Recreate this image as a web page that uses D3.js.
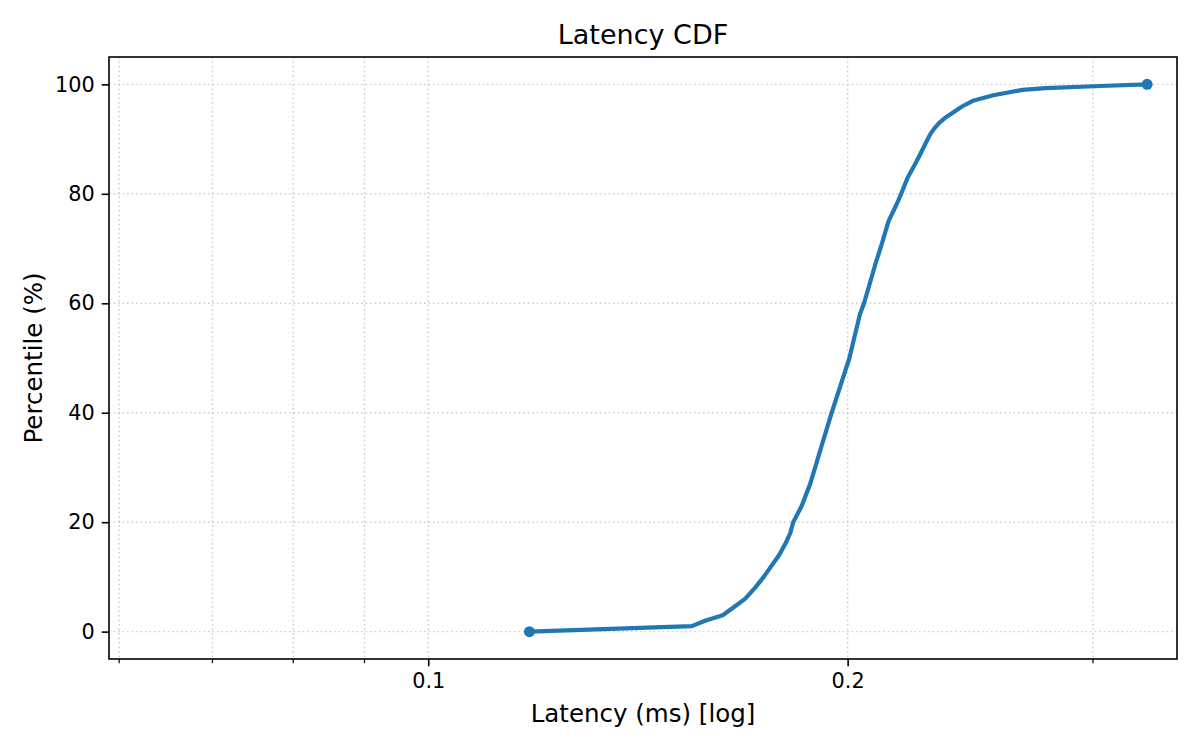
<!DOCTYPE html>
<html>
<head>
<meta charset="utf-8">
<title>Latency CDF</title>
<script src="https://cdn.jsdelivr.net/npm/d3@7"></script>
<style>
  body { margin: 0; background: #fff; }
  text { font-family: "DejaVu Sans", sans-serif; fill: #000; }
</style>
</head>
<body>
<div id="chart"></div>
<script>
// Percentile levels and latency (ms)
const percentiles = [0, 1, 2, 3, 5, 6, 8, 10, 14, 16, 18, 20, 23, 27, 34, 40, 50, 58, 60, 67, 71, 75, 78, 80, 83, 86, 89, 90, 91, 92, 93, 94, 95, 96, 97, 98, 99, 99.3, 99.7, 100];
const latencyMs = [0.1182, 0.1546, 0.1580, 0.1627, 0.1668, 0.1688, 0.1716, 0.1741, 0.1786, 0.1804, 0.1819, 0.1828, 0.1854, 0.1880, 0.1916, 0.1948, 0.2006, 0.2041, 0.2055, 0.2093, 0.2117, 0.2140, 0.2168, 0.2185, 0.2209, 0.2242, 0.2273, 0.2283, 0.2294, 0.2309, 0.2328, 0.2353, 0.2385, 0.2418, 0.2460, 0.2545, 0.2670, 0.2774, 0.3037, 0.3281];

// Tick values
const xMajorTicks = [0.1, 0.2];
const xMinorTicks = [0.06, 0.07, 0.08, 0.09, 0.3];
const yTicks = [0, 20, 40, 60, 80, 100];

const width = 1200;
const height = 750;
const margin = { top: 57, right: 23, bottom: 91, left: 109 };
const innerW = width - margin.left - margin.right;
const innerH = height - margin.top - margin.bottom;

const data = percentiles.map((p, i) => ({ p, ms: latencyMs[i] }));

const x = d3.scaleLog().domain([0.059, 0.3447]).range([0, innerW]);
const y = d3.scaleLinear().domain([-5, 105]).range([innerH, 0]);

const svg = d3
  .select("#chart")
  .append("svg")
  .attr("width", width)
  .attr("height", height)
  .attr("viewBox", `0 0 ${width} ${height}`);

svg.append("rect").attr("width", width).attr("height", height).attr("fill", "#fff");

const g = svg.append("g").attr("transform", `translate(${margin.left},${margin.top})`);

// Dotted grid (x on major + minor ticks, y on major)
const grid = g.append("g").attr("class", "grid")
  .attr("stroke", "#b0b0b0")
  .attr("stroke-opacity", 0.6)
  .attr("stroke-width", 1.4)
  .attr("stroke-dasharray", "1.7,2.8");

grid.selectAll(".vgrid")
  .data(xMajorTicks.concat(xMinorTicks))
  .enter()
  .append("line")
  .attr("x1", (d) => x(d))
  .attr("x2", (d) => x(d))
  .attr("y1", 0)
  .attr("y2", innerH);

grid.selectAll(".hgrid")
  .data(yTicks)
  .enter()
  .append("line")
  .attr("x1", 0)
  .attr("x2", innerW)
  .attr("y1", (d) => y(d))
  .attr("y2", (d) => y(d));

// X axis
const xAxis = g.append("g")
  .attr("transform", `translate(0,${innerH})`)
  .call(
    d3.axisBottom(x)
      .tickValues(xMajorTicks)
      .tickFormat(d3.format(".1f"))
      .tickSize(7.3)
      .tickPadding(7)
  );

// Minor ticks on the log axis
g.append("g")
  .attr("transform", `translate(0,${innerH})`)
  .selectAll("line")
  .data(xMinorTicks)
  .enter()
  .append("line")
  .attr("x1", (d) => x(d))
  .attr("x2", (d) => x(d))
  .attr("y1", 0)
  .attr("y2", 4.2)
  .attr("stroke", "#000")
  .attr("stroke-width", 1.2);

// Y axis
const yAxis = g.append("g")
  .call(d3.axisLeft(y).tickValues(yTicks).tickSize(7.3).tickPadding(7));

[xAxis, yAxis].forEach((ax) => {
  ax.select(".domain").remove();
  ax.selectAll(".tick line").attr("stroke", "#000").attr("stroke-width", 1.6);
  ax.selectAll(".tick text").style("font-size", "20.8px").attr("fill", "#000");
});

// Frame
g.append("rect")
  .attr("width", innerW)
  .attr("height", innerH)
  .attr("fill", "none")
  .attr("stroke", "#000")
  .attr("stroke-width", 1.6);

// CDF line
const line = d3.line()
  .x((d) => x(d.ms))
  .y((d) => y(d.p));

g.append("path")
  .datum(data)
  .attr("d", line)
  .attr("fill", "none")
  .attr("stroke", "#1f77b4")
  .attr("stroke-width", 4.2)
  .attr("stroke-linejoin", "round")
  .attr("stroke-linecap", "round");

// Markers on first and last point
g.selectAll(".endDot")
  .data([data[0], data[data.length - 1]])
  .enter()
  .append("circle")
  .attr("cx", (d) => x(d.ms))
  .attr("cy", (d) => y(d.p))
  .attr("r", 5.5)
  .attr("fill", "#1f77b4");

// Title and labels
svg.append("text")
  .attr("x", margin.left + innerW / 2)
  .attr("y", 44)
  .attr("text-anchor", "middle")
  .style("font-size", "27px")
  .text("Latency CDF");

svg.append("text")
  .attr("x", margin.left + innerW / 2)
  .attr("y", 722)
  .attr("text-anchor", "middle")
  .style("font-size", "24.5px")
  .text("Latency (ms) [log]");

svg.append("text")
  .attr("transform", `translate(42,${margin.top + innerH / 2}) rotate(-90)`)
  .attr("text-anchor", "middle")
  .style("font-size", "24.5px")
  .text("Percentile (%)");
</script>
</body>
</html>
